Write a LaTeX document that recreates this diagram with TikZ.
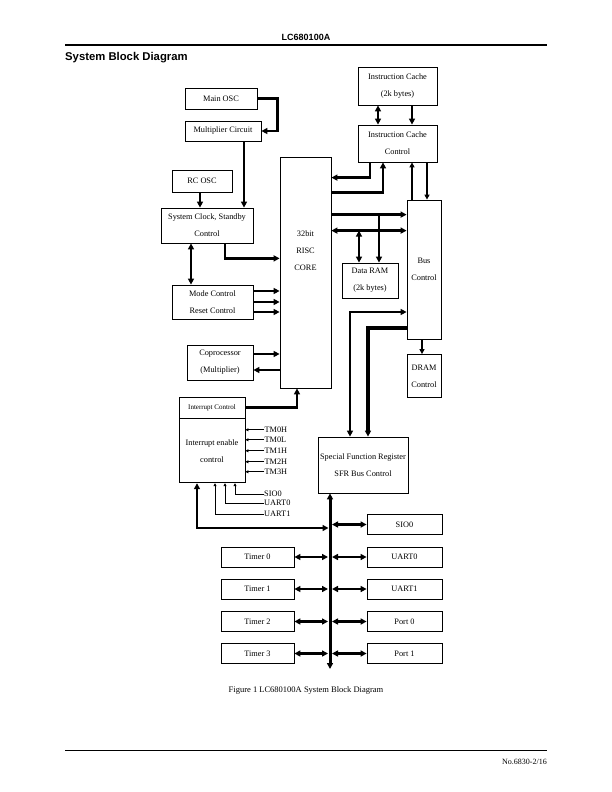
\documentclass[tikz,border=0pt]{standalone}
\usepackage{fontspec}
\setmainfont{Liberation Serif}
\setsansfont{Liberation Sans}
\usetikzlibrary{calc, arrows.meta}
\tikzset{
  box/.style  = {draw, line width=0.8pt, align=center, inner sep=0pt,
                 font=\fontsize{8.3}{17}\selectfont},
  fl/.style   = {-{Triangle[length=6pt,width=6pt]}, line width=2.5pt},
  bfl/.style  = {{Triangle[length=6pt,width=6pt]}-{Triangle[length=6pt,width=6pt]}, line width=2.5pt},
  ml/.style   = {-{Triangle[length=5pt,width=5pt]}, line width=1.6pt},
  sig/.style  = {-{Triangle[length=3pt,width=3pt]}, line width=0.8pt},
  lbl/.style  = {font=\fontsize{8.3}{9}\selectfont, inner sep=0pt, anchor=west},
  pbox/.style = {box, minimum width=75pt, minimum height=20pt},
  tbox/.style = {box, minimum width=73pt, minimum height=20pt}
}
\begin{document}
\begin{tikzpicture}[x=1pt, y=-1pt]
  \useasboundingbox (0,0) rectangle (612,792);

  % page head
  \node[font=\sffamily\bfseries\fontsize{9}{10}\selectfont] (hdr) at (306,37) {LC680100A};
  \draw[line width=1.6pt] (65,45) -- (547,45);
  \node[anchor=west, inner sep=0pt, font=\sffamily\bfseries\fontsize{11.3}{13}\selectfont] (ttl) at (65,58) {System Block Diagram};

  % clock and control blocks
  \node[box, minimum width=72pt, minimum height=21pt] (mosc) at (221,98.5) {Main OSC};
  \node[box, minimum width=76pt, minimum height=20pt] (mult) at (223,131) {Multiplier Circuit};
  \node[box, minimum width=60pt, minimum height=22pt] (rc) at (202,181) {RC OSC};
  \node[box, minimum width=92pt, minimum height=35pt] (sclk) at (207,225.5) {System Clock, Standby\\Control};
  \node[box, minimum width=81pt, minimum height=34pt] (mode) at (212.5,302) {Mode Control\\Reset Control};
  \node[box, minimum width=66pt, minimum height=35pt] (cop) at (220,362.5) {Coprocessor\\(Multiplier)};
  \node[box, minimum width=66pt, minimum height=21pt, font=\fontsize{7}{9}\selectfont] (intt) at (212,407.5) {Interrupt Control};
  \node[box, minimum width=66pt, minimum height=64pt, anchor=north] (inte) at (intt.south) {Interrupt enable\\control};

  % core and memory side
  \node[box, minimum width=51pt, minimum height=231pt] (core) at (305.5,272.5) {};
  \node[box, draw=none] (corelbl) at ($(core.center)+(0,-22)$) {32bit\\RISC\\CORE};
  \node[box, minimum width=79pt, minimum height=38pt] (ic) at (397.5,86) {Instruction Cache\\(2k bytes)};
  \node[box, minimum width=79pt, minimum height=37pt] (icc) at (397.5,143.5) {Instruction Cache\\Control};
  \node[box, minimum width=34pt, minimum height=139pt] (busc) at (424,269.5) {Bus\\Control};
  \node[box, minimum width=56pt, minimum height=35pt] (ram) at (370,280.5) {Data RAM\\(2k bytes)};
  \node[box, minimum width=34pt, minimum height=43pt] (dram) at (424,376) {DRAM\\Control};
  \node[box, minimum width=90pt, minimum height=56pt] (sfr) at (363,465) {Special Function Register\\SFR Bus Control};

  % peripheral blocks
  \node[pbox] (sio) at (404.5,524.5) {SIO0};
  \node[pbox] (uart0) at (404.5,557) {UART0};
  \node[pbox] (uart1) at (404.5,589) {UART1};
  \node[pbox] (port0) at (404.5,621.5) {Port 0};
  \node[pbox] (port1) at (404.5,653.5) {Port 1};
  \node[tbox] (timer0) at (257.5,557) {Timer 0};
  \node[tbox] (timer1) at (257.5,589) {Timer 1};
  \node[tbox] (timer2) at (257.5,621.5) {Timer 2};
  \node[tbox] (timer3) at (257.5,653.5) {Timer 3};
  \coordinate (busend) at (330,669);

  % clock connections
  \draw[fl] (mosc.east) -| ($(mult.east)+(16,0)$) -- (mult.east);
  \draw[fl] ($(mult.south)+(21,0)$) -- ($(sclk.north)+(37,0)$);
  \draw[fl] ($(rc.south)+(-2,0)$) -- ($(rc.south |- sclk.north)+(-2,0)$);
  \draw[fl] ($(sclk.south)+(18,0)$) |- ($(sclk.south -| core.west)+(0,15)$);
  \draw[bfl] ($(sclk.south)+(-16,0)$) -- ($(mode.north)+(-21.5,0)$);
  \foreach \dy in {-11,0,10}
    \draw[fl] ($(mode.east)+(0,\dy)$) -- ($(mode.east -| core.west)+(0,\dy)$);
  \draw[fl] ($(cop.east)+(0,-8.5)$) -- ($(cop.east -| core.west)+(0,-8.5)$);
  \draw[fl] ($(cop.east -| core.west)+(0,7.5)$) -- ($(cop.east)+(0,7.5)$);
  \draw[fl] (intt.east) -| ($(core.south)+(-8.5,0)$);

  % cache, RAM and bus
  \draw[bfl] ($(ic.south)+(-19.5,0)$) -- ($(icc.north)+(-19.5,0)$);
  \draw[fl] ($(ic.south)+(14.5,0)$) -- ($(icc.north)+(14.5,0)$);
  \draw[fl] ($(icc.south)+(-27.5,0)$) |- ($(core.north east)+(0,21)$);
  \draw[fl] ($(core.north east)+(0,36)$) -| ($(icc.south)+(-14.5,0)$);
  \draw[ml] ($(busc.north)+(-12,0)$) -- ($(busc.north |- icc.south)+(-12,0)$);
  \draw[ml] ($(busc.north |- icc.south)+(3,0)$) -- ($(busc.north)+(3,0)$);
  \draw[fl] ($(core.east |- busc.north)+(0,15)$) -- ($(busc.north west)+(0,15)$);
  \draw[bfl] ($(core.east |- busc.north)+(0,31)$) -- ($(busc.north west)+(0,31)$);
  \draw[fl] ($(ram.north)+(9,-48)$) -- ($(ram.north)+(9,0)$);
  \draw[bfl] ($(ram.north)+(-11,-32)$) -- ($(ram.north)+(-11,0)$);
  \draw[ml] ($(busc.south)+(-2,0)$) -- ($(dram.north)+(-2,0)$);
  \draw[bfl] ($(busc.west)+(0,42.5)$) -| ($(sfr.north)+(-13,0)$);
  \draw[fl, line width=3.6pt] ($(busc.west)+(0,58.5)$) -| ($(sfr.north)+(5,0)$);

  % interrupt sources
  \foreach \n/\dy in {TM0H/-21, TM0L/-11, TM1H/0, TM2H/11, TM3H/21} {
    \node[lbl] (\n) at ($(inte.east)+(19,\dy)$) {\n};
    \draw[sig] (\n.west) -- (inte.east |- \n.west);
  }
  \foreach \n/\dx/\dy in {SIO0/23/11, UART0/13/20, UART1/3/31} {
    \node[lbl] (i\n) at ($(inte.south)+(52,\dy)$) {\n};
    \draw[sig] (i\n.west) -| ($(inte.south)+(\dx,0)$);
  }

  % peripheral bus
  \draw[{Triangle[length=6pt,width=6pt]}-{Triangle[length=6pt,width=6pt]}, line width=3pt] (sfr.south -| busend) -- (busend);
  \draw[bfl] ($(inte.south)+(-15,0)$) |- ($(busend)+(-1.5,-141)$);
  \draw[bfl] ($(sio.west -| busend)+(2,0)$) -- (sio.west);
  \foreach \p in {uart0, uart1, port0, port1}
    \draw[bfl] ($(\p.west -| busend)+(2,0)$) -- (\p.west);
  \foreach \t in {timer0, timer1, timer2, timer3}
    \draw[bfl] (\t.east) -- ($(\t.east -| busend)+(-2,0)$);

  % caption and page foot
  \node[font=\fontsize{8.5}{10}\selectfont] (cap) at (306,690) {Figure 1 LC680100A System Block Diagram};
  \draw[line width=0.8pt] (65,750) -- (547,750);
  \node[anchor=east, inner sep=0pt, font=\fontsize{8}{9}\selectfont] (pg) at (547,762) {No.6830-2/16};
\end{tikzpicture}
\end{document}
